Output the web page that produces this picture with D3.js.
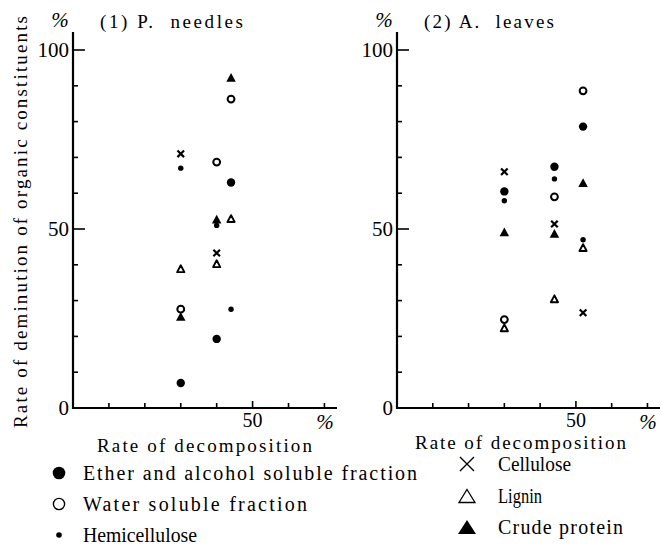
<!DOCTYPE html>
<html><head><meta charset="utf-8">
<script src="https://cdn.jsdelivr.net/npm/d3@7"></script>
<style>body{margin:0;background:#fff}svg text{font-family:"Liberation Serif","DejaVu Serif","Noto Serif","Times New Roman",serif;fill:#000}</style>
</head><body>
<svg id="c" width="663" height="546"></svg>
<script>
// ---- data ----
const seriesNames = ["Ether and alcohol soluble fraction","Water soluble fraction","Hemicellulose","Cellulose","Lignin","Crude protein"];
const seriesKeys = ["ether","water","hemi","cellulose","lignin","crude"];
const panelTitles = ["(1) P.  needles","(2) A.  leaves"];
const yTickValues = [0,10,20,30,40,50,60,70,80,90,100];
const yTickLabels = [0,50,100];
const xTickValues = [10,20,30,40,50,60,70];
const xTickLabels = [50];
// panel 1: P. needles
const p1X = [30, 40, 44];
const p1Ether = [7, 19.3, 63];
const p1Water = [27.6, 68.7, 86.3];
const p1Hemi = [67, 51, 27.6];
const p1Cellulose = [71, 43.3, null];
const p1Lignin = [38.8, 40.2, 52.8];
const p1Crude = [25.4, 52.6, 92.2];
// panel 2: A. leaves
const p2X = [30, 44, 52];
const p2Ether = [60.5, 67.4, 78.6];
const p2Water = [24.7, 59, 88.6];
const p2Hemi = [57.9, 64, 47];
const p2Cellulose = [66, 51.4, 26.6];
const p2Lignin = [22.3, 30.4, 44.7];
const p2Crude = [49, 48.6, 62.8];

const panels = [
  {x:p1X, s:{ether:p1Ether,water:p1Water,hemi:p1Hemi,cellulose:p1Cellulose,lignin:p1Lignin,crude:p1Crude},
   left:73, right:337, title:panelTitles[0], titleLen:143, rateX:97, rateLen:215, rateY:452},
  {x:p2X, s:{ether:p2Ether,water:p2Water,hemi:p2Hemi,cellulose:p2Cellulose,lignin:p2Lignin,crude:p2Crude},
   left:397, right:660, title:panelTitles[1], titleLen:130, rateX:415, rateLen:211, rateY:449}
];
const svg = d3.select("#c");
const y = d3.scaleLinear().domain([0,100]).range([408,50]);
const yTop = 32;

// fit a text to a target width: widen with letter spacing, or compress glyphs if too wide
function fit(t, w){
  const n = t.node().getComputedTextLength();
  t.attr("textLength", w).attr("lengthAdjust", n > w ? "spacingAndGlyphs" : "spacing");
  return t;
}

function drawMarker(g, key, cx, cy){
  if(key==="ether") g.append("circle").attr("cx",cx).attr("cy",cy).attr("r",4.2).attr("fill","#000");
  else if(key==="water") g.append("circle").attr("cx",cx).attr("cy",cy).attr("r",3.4).attr("fill","#fff").attr("stroke","#000").attr("stroke-width",2);
  else if(key==="hemi") g.append("circle").attr("cx",cx).attr("cy",cy).attr("r",2.7).attr("fill","#000");
  else if(key==="cellulose"){ const s=3.3;
    g.append("path").attr("d",`M${cx-s},${cy-s}L${cx+s},${cy+s}M${cx+s},${cy-s}L${cx-s},${cy+s}`).attr("stroke","#000").attr("stroke-width",2.2).attr("fill","none");}
  else if(key==="lignin"){ const s=3.8;
    g.append("path").attr("d",`M${cx},${cy-s}L${cx+s*0.95},${cy+s*0.8}L${cx-s*0.95},${cy+s*0.8}Z`).attr("stroke","#000").attr("stroke-width",1.9).attr("fill","#fff").attr("stroke-linejoin","round");}
  else if(key==="crude"){ const s=5;
    g.append("path").attr("d",`M${cx},${cy-s}L${cx+s*0.95},${cy+s*0.75}L${cx-s*0.95},${cy+s*0.75}Z`).attr("fill","#000");}
}

panels.forEach((p,i)=>{
  const x = d3.scaleLinear().domain([0,73.5]).range([p.left,p.right]);
  const g = svg.append("g");
  g.append("line").attr("x1",x(0)).attr("x2",x(0)).attr("y1",yTop).attr("y2",y(0)+1).attr("stroke","#000").attr("stroke-width",2.2);
  g.append("line").attr("x1",x(0)).attr("x2",p.right).attr("y1",y(0)).attr("y2",y(0)).attr("stroke","#000").attr("stroke-width",2.2);
  yTickValues.forEach(v=>{
    if(v===0) return;
    const len = (v===50||v===100)?12:5;
    g.append("line").attr("x1",x(0)).attr("x2",x(0)+len).attr("y1",y(v)).attr("y2",y(v)).attr("stroke","#000").attr("stroke-width",1.6);
  });
  yTickLabels.forEach(v=>{
    g.append("text").attr("x",x(0)-4).attr("y",y(v)+7).attr("text-anchor","end").attr("font-size",21).text(v);
  });
  xTickValues.forEach(v=>{
    const len = v===50?7:5;
    g.append("line").attr("x1",x(v)).attr("x2",x(v)).attr("y1",y(0)).attr("y2",y(0)-len).attr("stroke","#000").attr("stroke-width",1.6);
  });
  xTickLabels.forEach(v=>{
    g.append("text").attr("x",x(v)).attr("y",y(0)+19).attr("text-anchor","middle").attr("font-size",20).text(v);
  });
  g.append("text").attr("x",p.right-12).attr("y",y(0)+21).attr("text-anchor","middle").attr("font-size",21).attr("font-style","italic").text("%");
  g.append("text").attr("x",x(0)-13).attr("y",27).attr("text-anchor","middle").attr("font-size",21).attr("font-style","italic").text("%");
  fit(g.append("text").attr("x",x(0)+27).attr("y",28).attr("font-size",19).style("white-space","pre").text(p.title), p.titleLen);
  fit(g.append("text").attr("x",p.rateX).attr("y",p.rateY).attr("font-size",19).text("Rate of decomposition"), p.rateLen);
  seriesKeys.forEach(k=>{
    p.s[k].forEach((v,j)=>{ if(v==null) return; drawMarker(g,k,x(p.x[j]),y(v)); });
  });
});

// y axis title
fit(svg.append("text").attr("transform","translate(27,222) rotate(-90)").attr("text-anchor","middle").attr("font-size",19)
  .text("Rate of deminution of organic constituents"), 412);

// legend
const legY = [480,511,542];
const legW = [334,224,114];
const legY2 = [471,503,534];
const legW2 = [73,44,125];
[0,1,2].forEach((si,j)=>{
  const k = seriesKeys[si], cx=59, cy=legY[j]-7;
  if(k==="ether") svg.append("circle").attr("cx",cx).attr("cy",cy).attr("r",6.3).attr("fill","#000");
  else if(k==="water") svg.append("circle").attr("cx",cx).attr("cy",cy).attr("r",5.6).attr("fill","none").attr("stroke","#000").attr("stroke-width",1.4);
  else svg.append("circle").attr("cx",cx).attr("cy",cy).attr("r",2.8).attr("fill","#000");
  fit(svg.append("text").attr("x",83).attr("y",legY[j]).attr("font-size",20).text(seriesNames[si]), legW[j]);
});
[3,4,5].forEach((si,j)=>{
  const k = seriesKeys[si], cx=467, cy=legY2[j]-7;
  if(k==="cellulose") svg.append("path").attr("d",`M${cx-7},${cy-7}L${cx+7},${cy+7}M${cx+7},${cy-7}L${cx-7},${cy+7}`).attr("stroke","#000").attr("stroke-width",1.4);
  else if(k==="lignin") svg.append("path").attr("d",`M${cx},${cy-6.5}L${cx+8},${cy+6.5}L${cx-8},${cy+6.5}Z`).attr("stroke","#000").attr("stroke-width",1.3).attr("fill","#fff");
  else svg.append("path").attr("d",`M${cx},${cy-7}L${cx+9},${cy+7}L${cx-9},${cy+7}Z`).attr("fill","#000");
  fit(svg.append("text").attr("x",498).attr("y",legY2[j]).attr("font-size",20).text(seriesNames[si]), legW2[j]);
});
</script>
</body></html>
